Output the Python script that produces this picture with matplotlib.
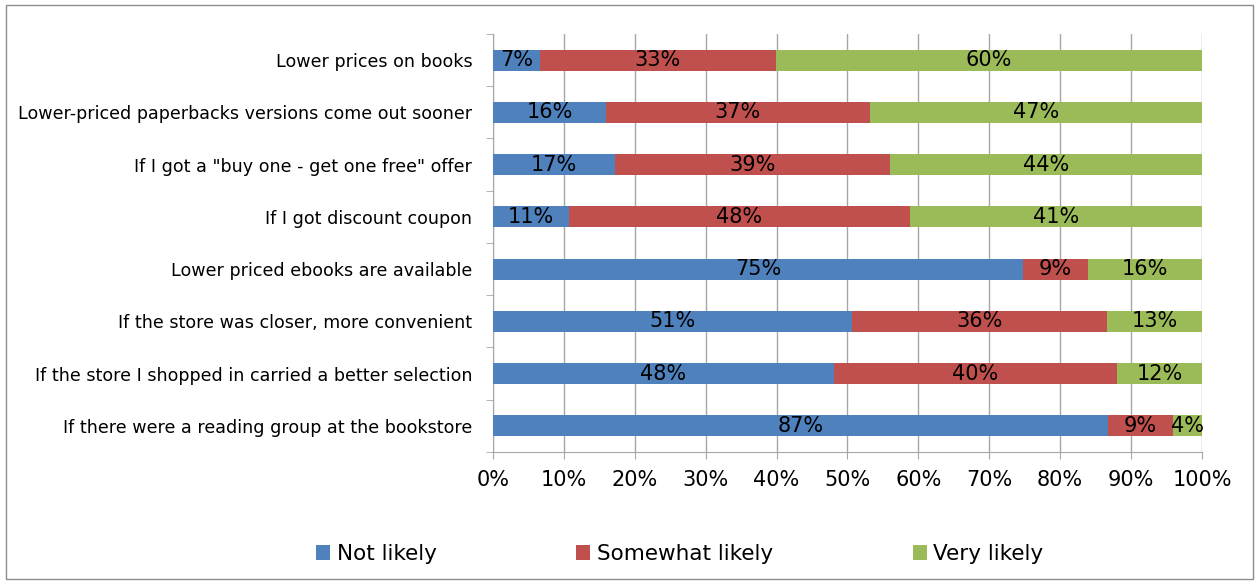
import matplotlib.pyplot as plt
import numpy as np
from matplotlib.patches import Rectangle
from matplotlib import font_manager

# %% Data
categories = [
    "Lower prices on books",
    "Lower-priced paperbacks versions come out sooner",
    'If I got a "buy one - get one free" offer',
    "If I got discount coupon",
    "Lower priced ebooks are available",
    "If the store was closer, more convenient",
    "If the store I shopped in carried a better selection",
    "If there were a reading group at the bookstore",
]
not_likely = [6.6, 15.9, 17.2, 10.7, 74.8, 50.6, 48.1, 86.7]
somewhat_likely = [33.3, 37.3, 38.8, 48.1, 9.1, 36.0, 39.9, 9.2]
very_likely = [60.1, 46.8, 44.0, 41.2, 16.1, 13.4, 12.0, 4.1]
series_names = ["Not likely", "Somewhat likely", "Very likely"]

# %% Style
COLORS = ["#4F81BD", "#C0504D", "#9BBB59"]
GRID_COLOR = "#A6A6A6"
names = {f.name for f in font_manager.fontManager.ttflist}
FONT = "Liberation Sans Narrow" if "Liberation Sans Narrow" in names else "DejaVu Sans"
plt.rcParams["font.family"] = [FONT, "DejaVu Sans"]

fig = plt.figure(figsize=(12.59, 5.82), dpi=100)
ax = fig.add_axes([0.3916, 0.2234, 0.9547 - 0.3916, 0.9416 - 0.2234])

y = np.arange(len(categories))
series = [not_likely, somewhat_likely, very_likely]
left = np.zeros(len(categories))
for idx, vals in enumerate(series):
    vals = np.array(vals)
    bars = ax.barh(y, vals, left=left, height=0.4, color=COLORS[idx],
                   label=series_names[idx], zorder=3)
    labels = [f"{round(v):d}%" for v in vals]
    ax.bar_label(bars, labels=labels, label_type="center", fontsize=15, color="black")
    left += vals

ax.set_xlim(0, 100)
ax.set_ylim(len(categories) - 0.5, -0.5)
ax.set_xticks(np.arange(0, 101, 10))
ax.set_xticklabels([f"{v}%" for v in range(0, 101, 10)], fontsize=15)
ax.set_yticks(y)
ax.set_yticklabels(categories, fontsize=12.6)
ax.set_yticks(np.arange(-0.5, len(categories)), minor=True)
ax.tick_params(axis="y", which="major", length=0, pad=15)
ax.tick_params(axis="y", which="minor", length=5, color=GRID_COLOR)
ax.tick_params(axis="x", length=5, color=GRID_COLOR, pad=8)
ax.grid(True, axis="x", color=GRID_COLOR, linewidth=1, zorder=0)
ax.set_axisbelow(True)
for side in ["top", "right"]:
    ax.spines[side].set_visible(False)
for side in ["left", "bottom"]:
    ax.spines[side].set_color(GRID_COLOR)

fig.legend(loc="center", bbox_to_anchor=(0.54, 0.048), ncols=3, frameon=False,
           fontsize=15.5, handlelength=0.65, handleheight=0.65, handletextpad=0.3,
           columnspacing=6.5)

fig.patches.append(Rectangle((0.005, 0.006), 0.99, 0.986, transform=fig.transFigure,
                             fill=False, edgecolor="#8C8C8C", linewidth=1))

plt.savefig("out.png", dpi=100)
